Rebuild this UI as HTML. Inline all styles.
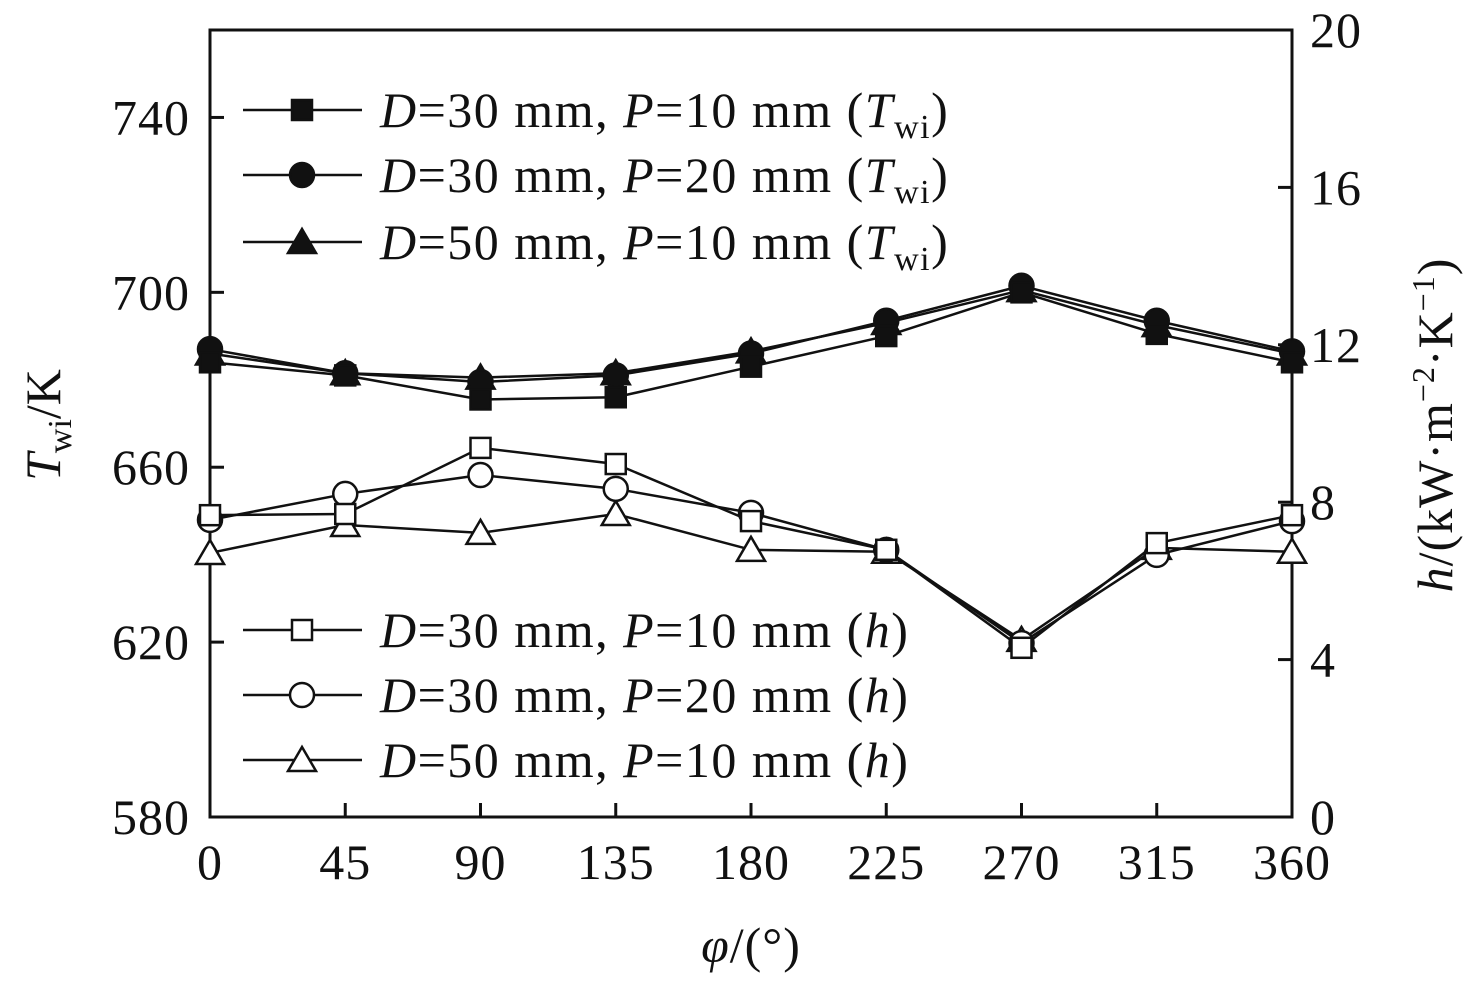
<!DOCTYPE html>
<html><head><meta charset="utf-8"><style>
body{margin:0;background:#fff}
svg text{font-family:"Liberation Serif",serif;fill:#111}
</style></head><body>
<svg id="chart" width="1476" height="976" xmlns="http://www.w3.org/2000/svg">
<g id="axes"></g>
<g id="series"></g>
<g id="legend"></g>
<text x="751" y="962" font-size="50" text-anchor="middle" letter-spacing="1"><tspan font-style="italic">φ</tspan>/(°)</text>
<text transform="translate(60,425) rotate(-90)" font-size="50" text-anchor="middle"><tspan font-style="italic">T</tspan><tspan font-size="34" dy="11">wi</tspan><tspan dy="-11">/K</tspan></text>
<text transform="translate(1452,425) rotate(-90)" font-size="50" text-anchor="middle" letter-spacing="1"><tspan font-style="italic">h</tspan>/(kW·m<tspan font-size="32" dy="-18">−2</tspan><tspan dy="18">·K</tspan><tspan font-size="32" dy="-18">−1</tspan><tspan dy="18">)</tspan></text>
</svg>
<script>
const angles=[0,45,90,135,180,225,270,315,360];
const xTicks=[0,45,90,135,180,225,270,315,360];
const yLeftTicks=[580,620,660,700,740];
const yRightTicks=[0,4,8,12,16,20];
const tD30P10=[684,681,675.5,676,683,690,700,690.5,684];
const tD30P20=[687,681.5,679.5,681,686,693.5,701.5,693.5,686.5];
const tD50P10=[686,681.5,680.5,681.5,686.5,693,700.5,692.5,686];
const hD30P10=[7.67,7.7,9.38,8.97,7.52,6.79,4.3,6.96,7.67];
const hD30P20=[7.55,8.21,8.69,8.34,7.73,6.79,4.42,6.66,7.52];
const hD50P10=[6.71,7.42,7.22,7.7,6.79,6.74,4.5,6.84,6.74];

const L=210,R=1292,T=30,B=817;
const xs=v=>L+(v/360)*(R-L);
const yl=v=>B-(v-580)/180*(B-T);
const yr=v=>B-v/20*(B-T);
const NS="http://www.w3.org/2000/svg";
function mk(tag,attrs,parent){const e=document.createElementNS(NS,tag);for(const k in attrs)e.setAttribute(k,attrs[k]);parent.appendChild(e);return e;}
const axes=document.getElementById('axes'),ser=document.getElementById('series'),leg=document.getElementById('legend');
let f=mk('rect',{x:L,y:T,width:R-L,height:B-T,fill:'none',stroke:'#111','stroke-width':3},axes);

xTicks.forEach(v=>{const x=xs(v);
 let t=mk('line',{x1:x,x2:x,y1:B,y2:B-14,stroke:'#111','stroke-width':3},axes);
 
 let tx=mk('text',{x:x,y:B+62,'font-size':50,'text-anchor':'middle','letter-spacing':1},axes);tx.textContent=v;
 });
yLeftTicks.forEach(v=>{const y=yl(v);
 let t=mk('line',{x1:L,x2:L+14,y1:y,y2:y,stroke:'#111','stroke-width':3},axes);
 
 let tx=mk('text',{x:L-20,y:y+17,'font-size':50,'text-anchor':'end','letter-spacing':1},axes);tx.textContent=v;
 });
yRightTicks.forEach(v=>{const y=yr(v);
 let t=mk('line',{x1:R,x2:R-14,y1:y,y2:y,stroke:'#111','stroke-width':3},axes);
 
 let tx=mk('text',{x:R+18,y:y+17,'font-size':50,'text-anchor':'start','letter-spacing':1},axes);tx.textContent=v;
 });

function marker(shape,filled,x,y,parent){
 const st={fill:filled?'#111':'#fff',stroke:'#111','stroke-width':2.5};let e;
 if(shape==='sq')e=mk('rect',Object.assign({x:x-10,y:y-10,width:20,height:20},st),parent);
 else if(shape==='ci')e=mk('circle',Object.assign({cx:x,cy:y,r:12},st),parent);
 else e=mk('polygon',Object.assign({points:`${x},${y-13} ${x-14},${y+11} ${x+14},${y+11}`},st),parent);
 return e;}
function series(vals,ys,shape,filled,name){
 const g=mk('g',{},ser);
 const p=mk('polyline',{points:vals.map((v,i)=>xs(angles[i])+','+ys(v)).join(' '),fill:'none',stroke:'#111','stroke-width':2.5},g);
 
 vals.forEach((v,i)=>{const m=marker(shape,filled,xs(angles[i]),ys(v),g);
  });}
series(hD50P10,yr,'tr',false,'h-d50-p10');
series(hD30P20,yr,'ci',false,'h-d30-p20');
series(hD30P10,yr,'sq',false,'h-d30-p10');
series(tD50P10,yl,'tr',true,'t-d50-p10');
series(tD30P20,yl,'ci',true,'t-d30-p20');
series(tD30P10,yl,'sq',true,'t-d30-p10');

const legItems=[['sq',true,'30','10','T',110],['ci',true,'30','20','T',175],['tr',true,'50','10','T',242],
 ['sq',false,'30','10','h',630],['ci',false,'30','20','h',695],['tr',false,'50','10','h',760]];
legItems.forEach(it=>{const [s,f,d,p,v,y]=it;
 const g=mk('g',{},leg);
 mk('line',{x1:243,x2:362,y1:y,y2:y,stroke:'#111','stroke-width':2.5},g);
 marker(s,f,302,y,g);
 const t=mk('text',{x:380,y:y+17,'font-size':50,'letter-spacing':1.5},g);
 t.innerHTML=v==='T'?`<tspan font-style="italic">D</tspan>=${d} mm, <tspan font-style="italic">P</tspan>=${p} mm (<tspan font-style="italic">T</tspan><tspan font-size="34" dy="11">wi</tspan><tspan dy="-11">)</tspan>`
  :`<tspan font-style="italic">D</tspan>=${d} mm, <tspan font-style="italic">P</tspan>=${p} mm (<tspan font-style="italic">h</tspan>)`;});
</script>
</body></html>
